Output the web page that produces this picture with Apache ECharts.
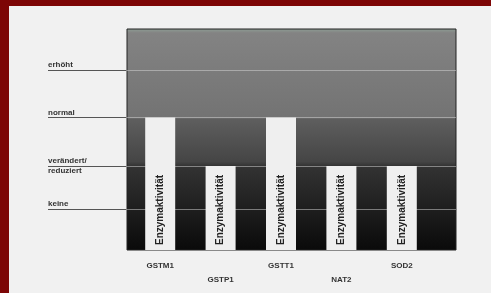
<!DOCTYPE html>
<html>
<head>
<meta charset="utf-8">
<script src="https://cdn.jsdelivr.net/npm/echarts@6/dist/echarts.min.js"></script>
<style>
  html, body { margin: 0; padding: 0; width: 491px; height: 293px; background: #7d0606; overflow: hidden; }
  #chart { position: absolute; left: 9px; top: 6px; width: 482px; height: 287px; background: #f1f1f1; }
</style>
</head>
<body>
<div id="chart"></div>
<script>
const genes = ['GSTM1', 'GSTP1', 'GSTT1', 'NAT2', 'SOD2'];
// activity levels on a 0..100 scale
const activity = [60, 38, 60, 38, 38];
const levelNames = ['keine', 'verändert/', 'reduziert', 'normal', 'erhöht'];
const levelValues = [18.5, 38, 38, 60, 81.5];
const barText = 'Enzymaktivität';

const chartDom = document.getElementById('chart');
const myChart = echarts.init(chartDom);

const plotGradient = new echarts.graphic.LinearGradient(0, 0, 0, 1, [
  { offset: 0, color: '#8fa096' },
  { offset: 0.02, color: '#838383' },
  { offset: 0.4, color: '#737373' },
  { offset: 0.41, color: '#5e5e5e' },
  { offset: 0.6, color: '#454545' },
  { offset: 0.62, color: '#333333' },
  { offset: 1, color: '#0a0a0a' },
]);

// label lines on the left side
const leftLines = levelNames.map((name, i) => {
  const under = name === 'reduziert';
  return {
    yAxis: levelValues[i],
    label: {
      show: true,
      formatter: name,
      position: under ? 'insideStartBottom' : 'insideStartTop',
      distance: [0, 1],
      color: '#333',
      fontSize: 8,
      fontWeight: 'bold',
      fontFamily: 'Liberation Sans',
    },
    lineStyle: { color: under ? 'rgba(0,0,0,0)' : '#555' },
  };
});

const option = {
  animation: false,
  grid: [
    { left: 118, top: 23, width: 329, height: 221, show: true, backgroundColor: plotGradient, borderColor: '#222', borderWidth: 1 },
    { left: 121, top: 23, width: 302, height: 221 },
    { left: 39, top: 23, width: 78, height: 221 },
  ],
  xAxis: [
    { gridIndex: 0, type: 'value', show: false, min: 0, max: 1 },
    {
      gridIndex: 1,
      type: 'category',
      data: genes,
      axisLine: { show: false },
      axisTick: { show: false },
      axisLabel: {
        interval: 0,
        margin: 12,
        color: '#333',
        fontSize: 8,
        fontWeight: 'bold',
        fontFamily: 'Liberation Sans',
        formatter: (v, i) => (i % 2 === 1 ? '\n\n' + v : v),
        lineHeight: 7,
      },
    },
    { gridIndex: 2, type: 'value', show: false, min: 0, max: 1 },
  ],
  yAxis: [
    { gridIndex: 0, type: 'value', show: false, min: 0, max: 100 },
    { gridIndex: 1, type: 'value', show: false, min: 0, max: 100 },
    { gridIndex: 2, type: 'value', show: false, min: 0, max: 100 },
  ],
  series: [
    {
      type: 'line',
      xAxisIndex: 0,
      yAxisIndex: 0,
      z: 1,
      data: [],
      markLine: {
        silent: true,
        symbol: 'none',
        label: { show: false },
        lineStyle: { color: '#d8d8d8', type: 'solid', width: 1, opacity: 0.5 },
        data: [{ yAxis: levelValues[0] }, { yAxis: levelValues[1] }, { yAxis: levelValues[3] }, { yAxis: levelValues[4] }],
      },
    },
    {
      type: 'line',
      xAxisIndex: 2,
      yAxisIndex: 2,
      data: [],
      markLine: {
        silent: true,
        symbol: 'none',
        lineStyle: { color: '#555', type: 'solid', width: 1 },
        data: leftLines,
      },
    },
    {
      type: 'bar',
      xAxisIndex: 1,
      yAxisIndex: 1,
      z: 5,
      data: activity,
      barWidth: 30,
      itemStyle: { color: '#efefef' },
      label: {
        show: true,
        position: 'insideBottom',
        rotate: 90,
        align: 'left',
        verticalAlign: 'middle',
        distance: 5,
        formatter: barText,
        color: '#222',
        fontSize: 10,
        fontWeight: 'bold',
        fontFamily: 'Liberation Sans',
      },
    },
  ],
};

myChart.setOption(option);
</script>
</body>
</html>
